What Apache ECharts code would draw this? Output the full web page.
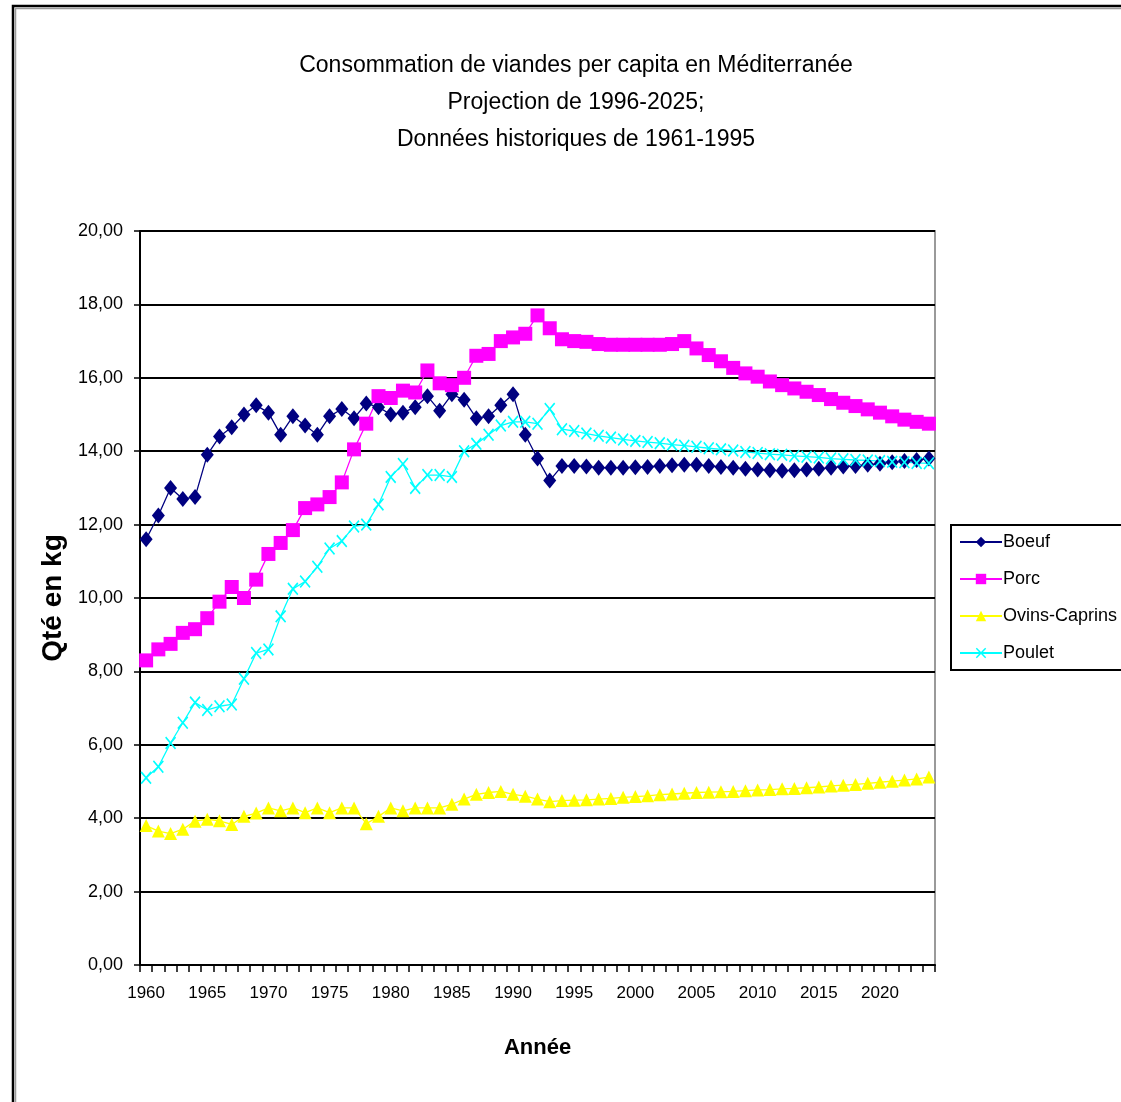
<!DOCTYPE html>
<html>
<head>
<meta charset="utf-8">
<title>Consommation de viandes per capita en Méditerranée</title>
<script src="https://cdn.jsdelivr.net/npm/echarts@6/dist/echarts.min.js"></script>
<style>
  html, body { margin: 0; padding: 0; background: #fff; }
  #chart { width: 1121px; height: 1102px; }
</style>
</head>
<body>
<div id="chart"></div>
<script>
// Years on the category axis (1960 – 2024)
const years = [];
for (let y = 1960; y <= 2024; y++) years.push(String(y));

// Per-capita consumption, kg
const boeuf = [
  11.6, 12.25, 13.0, 12.7, 12.75, 13.9, 14.4, 14.65, 15.0, 15.25,
  15.05, 14.45, 14.95, 14.7, 14.45, 14.95, 15.15, 14.9, 15.3, 15.2,
  15.0, 15.05, 15.2, 15.5, 15.1, 15.55, 15.4, 14.9, 14.95, 15.25,
  15.55, 14.45, 13.8, 13.2, 13.6, 13.6, 13.58, 13.55, 13.55, 13.55,
  13.56, 13.57, 13.6, 13.62, 13.63, 13.63, 13.6, 13.57, 13.55, 13.52,
  13.5, 13.48, 13.47, 13.48, 13.5, 13.52, 13.55, 13.58, 13.6, 13.63,
  13.66, 13.7, 13.73, 13.76, 13.8
];
const porc = [
  8.3, 8.6, 8.75, 9.05, 9.15, 9.45, 9.9, 10.3, 10.0, 10.5,
  11.2, 11.5, 11.85, 12.45, 12.55, 12.75, 13.15, 14.05, 14.75, 15.5,
  15.45, 15.65, 15.6, 16.2, 15.85, 15.8, 16.0, 16.6, 16.65, 17.0,
  17.1, 17.2, 17.7, 17.35, 17.05, 17.0, 16.98, 16.92, 16.9, 16.9,
  16.9, 16.9, 16.9, 16.92, 17.0, 16.8, 16.62, 16.45, 16.27, 16.12,
  16.03, 15.9, 15.8, 15.71, 15.62, 15.53, 15.42, 15.32, 15.23, 15.14,
  15.05, 14.95, 14.86, 14.8, 14.75
];
const ovinsCaprins = [
  3.8, 3.65, 3.58, 3.7, 3.92, 3.97, 3.93, 3.83, 4.05, 4.14,
  4.28, 4.2, 4.28, 4.15, 4.28, 4.15, 4.28, 4.28, 3.85, 4.05,
  4.28, 4.2, 4.28, 4.28, 4.28, 4.38, 4.52, 4.65, 4.7, 4.73,
  4.65, 4.6, 4.52, 4.45, 4.48, 4.49, 4.5, 4.52, 4.54, 4.57,
  4.59, 4.61, 4.64, 4.66, 4.68, 4.7, 4.71, 4.72, 4.73, 4.75,
  4.77, 4.78, 4.8, 4.81, 4.83, 4.85, 4.88, 4.9, 4.92, 4.95,
  4.98, 5.01, 5.04, 5.07, 5.12
];
const poulet = [
  5.1, 5.4, 6.05, 6.6, 7.15, 6.95, 7.05, 7.1, 7.8, 8.5,
  8.6, 9.5, 10.25, 10.45, 10.85, 11.35, 11.55, 11.95, 12.0, 12.55,
  13.3, 13.65, 13.0, 13.35, 13.35, 13.3, 14.0, 14.2, 14.45, 14.7,
  14.8, 14.8, 14.75, 15.15, 14.6, 14.55, 14.48, 14.42, 14.37, 14.32,
  14.28, 14.25, 14.22, 14.18, 14.15, 14.12, 14.08, 14.05, 14.02, 13.98,
  13.95, 13.92, 13.9, 13.87, 13.85, 13.83, 13.8, 13.78, 13.76, 13.75,
  13.73, 13.71, 13.7, 13.68, 13.67
];

const seriesNames = ['Boeuf', 'Porc', 'Ovins-Caprins', 'Poulet'];
const titleLines = [
  'Consommation de viandes per capita en Méditerranée',
  'Projection de 1996-2025;',
  'Données historiques de 1961-1995'
];

const SANS = "'Liberation Sans', Arial, sans-serif";

// Cross marker drawn as a filled outline so it keeps its thin look
const crossSymbol = 'path://M0,1L1,0L5,4L9,0L10,1L6,5L10,9L9,10L5,6L1,10L0,9L4,5Z';

function lineSeries(name, data, color, symbol, size) {
  return {
    name: name,
    type: 'line',
    data: data,
    symbol: symbol,
    symbolSize: size,
    showSymbol: true,
    showAllSymbol: true,
    animation: false,
    lineStyle: { color: color, width: 1.3 },
    itemStyle: { color: color },
    emphasis: { disabled: true }
  };
}

const chart = echarts.init(document.getElementById('chart'), null, { renderer: 'canvas' });
chart.setOption({
  backgroundColor: '#ffffff',
  animation: false,
  title: {
    text: titleLines.join('\n'),
    left: 576,
    top: 47,
    textAlign: 'center',
    padding: 0,
    textStyle: {
      fontFamily: SANS,
      fontSize: 23,
      fontWeight: 'normal',
      color: '#000',
      lineHeight: 37
    }
  },
  legend: {
    orient: 'vertical',
    left: 951,
    top: 525,
    padding: [8, 6, 8, 8],
    itemWidth: 42,
    itemHeight: 13,
    itemGap: 19,
    borderColor: '#000',
    borderWidth: 2,
    backgroundColor: '#fff',
    data: seriesNames,
    textStyle: { fontFamily: SANS, fontSize: 18, color: '#000', padding: [0, 0, 0, -4] }
  },
  grid: {
    left: 140,
    right: 186,
    top: 231,
    bottom: 137,
    show: true,
    borderColor: '#9a9a9a',
    borderWidth: 2,
    backgroundColor: '#fff'
  },
  xAxis: {
    type: 'category',
    data: years,
    boundaryGap: true,
    name: 'Année',
    nameLocation: 'middle',
    nameGap: 72,
    nameTextStyle: { fontFamily: SANS, fontSize: 22, fontWeight: 'bold', color: '#000' },
    axisLine: { lineStyle: { color: '#000', width: 2 } },
    axisTick: { show: true, interval: 0, length: 7, alignWithLabel: false, lineStyle: { color: '#000', width: 1.5 } },
    axisLabel: { interval: 4, margin: 20, fontFamily: SANS, fontSize: 17, color: '#000' },
    splitLine: { show: false }
  },
  yAxis: {
    type: 'value',
    min: 0,
    max: 20,
    interval: 2,
    name: 'Qté en kg',
    nameLocation: 'middle',
    nameGap: 66,
    nameRotate: 90,
    nameTextStyle: { fontFamily: SANS, fontSize: 28, fontWeight: 'bold', color: '#000' },
    axisLine: { show: true, lineStyle: { color: '#000', width: 2 } },
    axisTick: { show: true, length: 6, lineStyle: { color: '#000', width: 1.5 } },
    axisLabel: {
      margin: 17,
      fontFamily: SANS,
      fontSize: 18,
      color: '#000',
      formatter: function (v) { return v.toFixed(2).replace('.', ','); }
    },
    splitLine: { show: true, lineStyle: { color: '#000', width: 2 } }
  },
  graphic: [
    {
      type: 'rect',
      silent: true,
      z: -10,
      shape: { x: 13, y: 6, width: 1200, height: 1200 },
      style: { fill: 'none', stroke: '#000', lineWidth: 2.5 }
    },
    {
      type: 'rect',
      silent: true,
      z: -10,
      shape: { x: 15.5, y: 8.5, width: 1200, height: 1200 },
      style: { fill: 'none', stroke: '#9a9a9a', lineWidth: 1.5 }
    }
  ],
  series: [
    lineSeries('Boeuf', boeuf, '#000080', 'diamond', [13, 16]),
    lineSeries('Porc', porc, '#ff00ff', 'rect', 14),
    lineSeries('Ovins-Caprins', ovinsCaprins, '#ffff00', 'triangle', [13, 13]),
    lineSeries('Poulet', poulet, '#00ffff', crossSymbol, [11, 13])
  ]
});
</script>
</body>
</html>
